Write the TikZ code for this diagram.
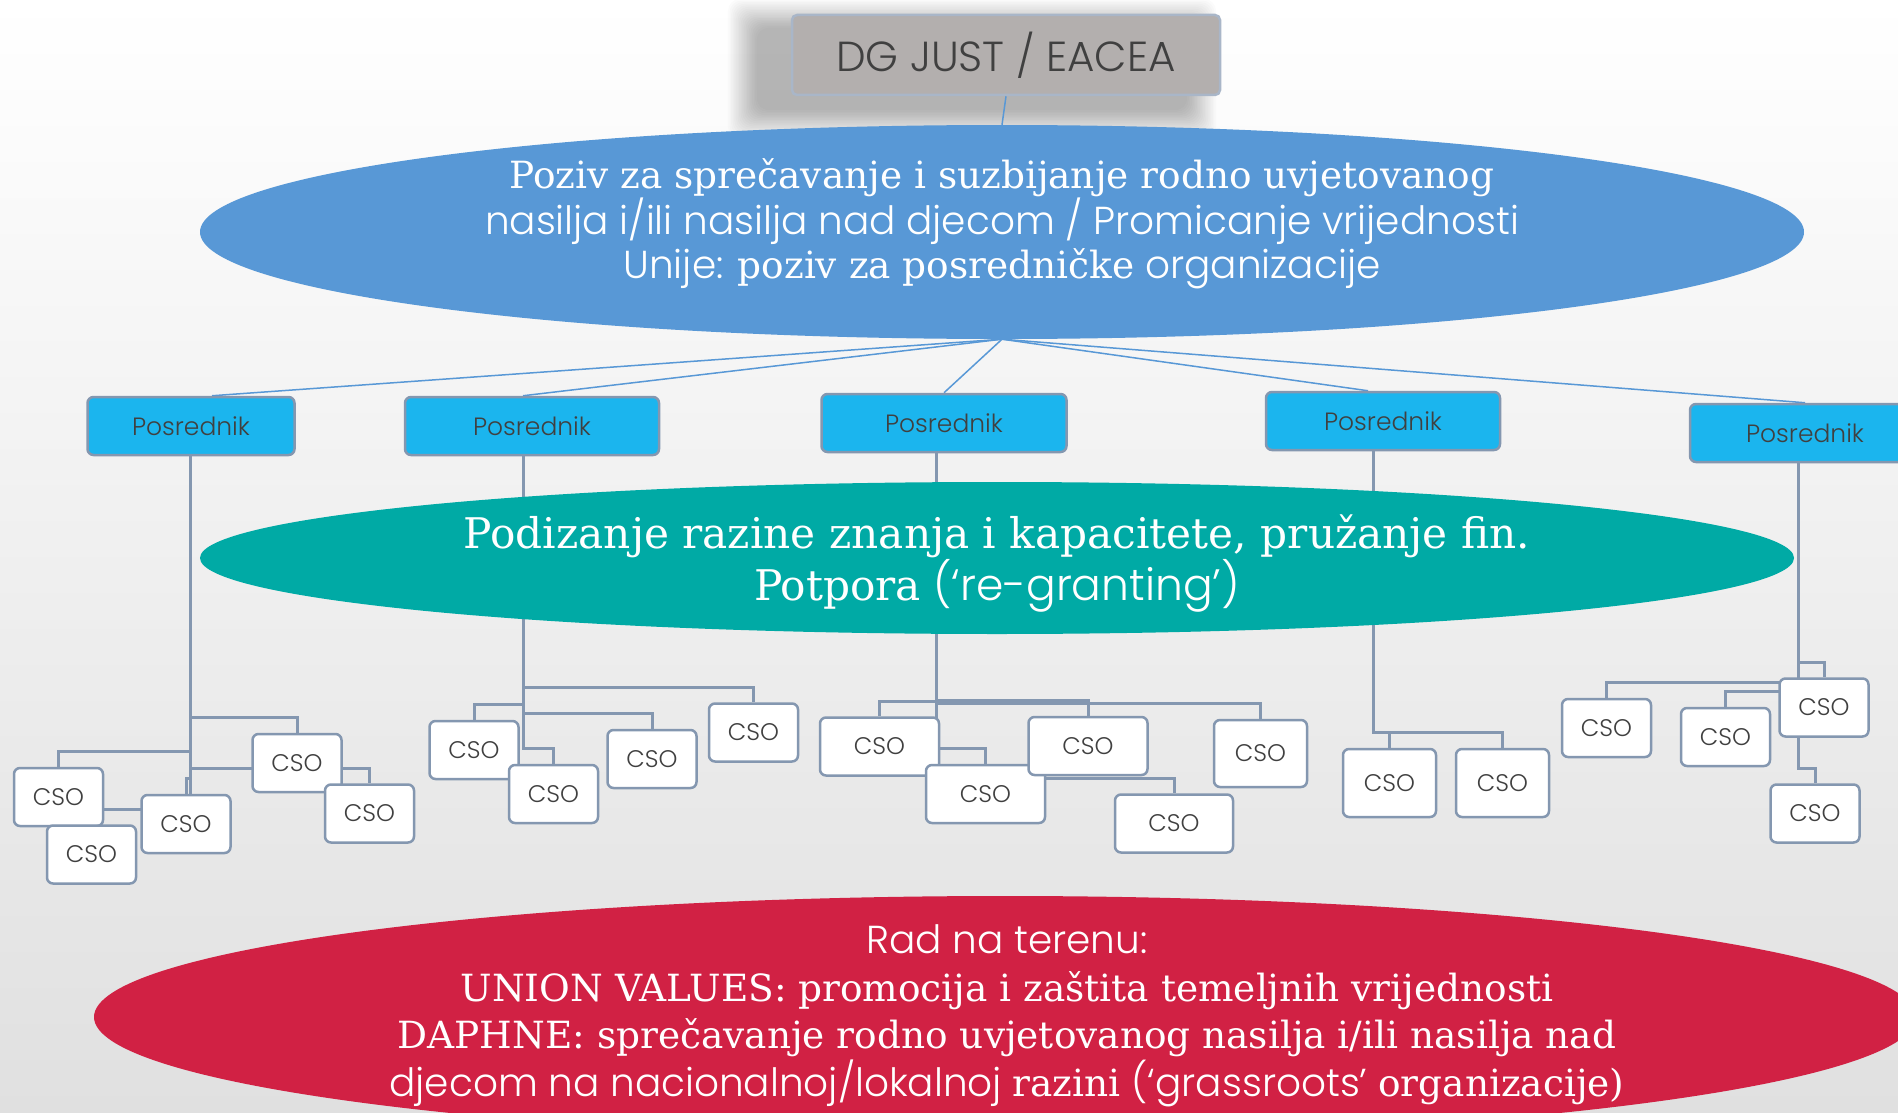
\documentclass[tikz,border=0pt]{standalone}
\usepackage{fontspec}
\IfFontExistsTF{Poppins Light}{\setmainfont{Poppins Light}}{\setmainfont{Poppins}}
\newfontfamily\slab{DejaVu Serif}[Scale=0.96]
\usetikzlibrary{shapes.geometric}
\definecolor{lineblue}{RGB}{132,151,176}
\definecolor{callblue}{RGB}{88,152,214}
\definecolor{posblue}{RGB}{27,181,238}
\definecolor{tealgr}{RGB}{0,170,165}
\definecolor{redrad}{RGB}{209,33,68}
\definecolor{boxgray}{RGB}{179,175,174}
\definecolor{txtgray}{RGB}{64,64,64}
\definecolor{bgmid}{RGB}{247,247,247}
\definecolor{bgbot}{RGB}{224,224,224}
\pgfdeclarelayer{back}
\pgfdeclarelayer{links}
\pgfsetlayers{back,links,main}

\begin{document}
\begin{tikzpicture}[x=1pt,y=-1pt,
    topbox/.style={draw=lineblue!70, line width=2.5pt, fill=boxgray, rounded corners=5pt,
      text=txtgray, font=\fontsize{42}{48}\selectfont},
    posrednik/.style={draw=lineblue, line width=2.5pt, fill=posblue, rounded corners=6pt,
      minimum height=58pt, text=txtgray, font=\fontsize{25}{29}\selectfont},
    cso/.style={draw=lineblue, line width=2.5pt, fill=white, rounded corners=6pt,
      minimum width=89pt, minimum height=58pt, text=txtgray, font=\fontsize{24}{28}\selectfont},
    oval/.style={ellipse, inner sep=0pt},
    ovaltxt/.style={text=white, align=center},
    cline/.style={draw=lineblue, line width=3pt},
    bline/.style={draw=callblue, line width=1.5pt}]

    \useasboundingbox (0,0) rectangle (1898,1113);
    \begin{pgfonlayer}{back}
      \fill[top color=white, middle color=bgmid, bottom color=bgbot] (0,0) rectangle (1898,1113);
    \end{pgfonlayer}

    % call level
    \node[topbox, minimum width=428pt, minimum height=80pt] (dg) at (1006,55) {DG JUST / EACEA};
    \begin{pgfonlayer}{back}
      \foreach \i in {0,...,18}
        \fill[black, opacity=0.014, rounded corners=12pt]
          ([xshift=-34pt-1.6pt*\i, yshift=-14pt-1.6pt*\i]dg.south west) rectangle
          ([xshift=-34pt+1.6pt*\i, yshift=-14pt+1.6pt*\i]dg.north east);
    \end{pgfonlayer}
    \node[oval, fill=callblue, minimum width=1604pt, minimum height=214pt] (poziv) at (1002,232) {};
    \node[ovaltxt, font=\fontsize{39}{44.5}\selectfont] (pozivtxt) at (1002,224)
      {{\slab Poziv za sprečavanje i suzbijanje rodno uvjetovanog}\\
       nasilja i/ili nasilja nad djecom / Promicanje vrijednosti\\
       Unije: {\slab poziv za posredničke} organizacije};

    % intermediaries
    \node[posrednik, minimum width=207pt] (p1) at (191,426) {Posrednik};
    \node[posrednik, minimum width=254pt] (p2) at (532,426) {Posrednik};
    \node[posrednik, minimum width=245pt] (p3) at (944,423) {Posrednik};
    \node[posrednik, minimum width=234pt] (p4) at (1383,421) {Posrednik};
    \node[posrednik, minimum width=230pt] (p5) at (1805,433) {Posrednik};

    \node[oval, fill=tealgr, minimum width=1594pt, minimum height=152pt] (podizanje) at (997,558) {};
    \node[ovaltxt, font=\fontsize{44}{52}\selectfont] (podizanjetxt) at (997,563)
      {{\slab Podizanje razine znanja i kapacitete, pružanje fin.}\\
       {\slab Potpora} (‘re-granting’)};

    % CSOs
    \node[cso] (c1a) at (58.5,797) {CSO};
    \node[cso] (c1b) at (91.5,854.5) {CSO};
    \node[cso] (c1c) at (186,824) {CSO};
    \node[cso] (c1d) at (297,763) {CSO};
    \node[cso] (c1e) at (369.5,813.5) {CSO};

    \node[cso] (c2a) at (474,750) {CSO};
    \node[cso] (c2b) at (553.5,794) {CSO};
    \node[cso] (c2c) at (652,759) {CSO};
    \node[cso] (c2d) at (753.5,732.5) {CSO};

    \node[cso, minimum width=119pt] (c3a) at (879.5,746.5) {CSO};
    \node[cso, minimum width=119pt] (c3b) at (985.5,794) {CSO};
    \node[cso, minimum width=119pt] (c3c) at (1088,746) {CSO};
    \node[cso, minimum width=93pt, minimum height=67pt] (c3d) at (1260.5,753.5) {CSO};
    \node[cso, minimum width=118pt] (c3e) at (1174,823.5) {CSO};

    \node[cso, minimum width=93pt, minimum height=68pt] (c4a) at (1389.5,783) {CSO};
    \node[cso, minimum width=93pt, minimum height=68pt] (c4b) at (1502.5,783) {CSO};

    \node[cso] (c5a) at (1824,707.5) {CSO};
    \node[cso] (c5b) at (1606.5,728) {CSO};
    \node[cso] (c5c) at (1725.5,737) {CSO};
    \node[cso] (c5d) at (1815,813.5) {CSO};

    % field level
    \node[oval, fill=redrad, minimum width=1822pt, minimum height=242pt] (rad) at (1005,1017) {};
    \node[ovaltxt, font=\fontsize{39}{47.5}\selectfont] (radtxt) at (1007,1016)
      {Rad na terenu:\\
       {\slab UNION VALUES: promocija i zaštita temeljnih vrijednosti}\\
       {\slab DAPHNE: sprečavanje rodno uvjetovanog nasilja i/ili nasilja nad}\\
       djecom na nacionalnoj/lokalnoj {\slab razini} (‘grassroots’ {\slab organizacije)}};

    \begin{pgfonlayer}{links}
      \draw[bline] (dg.south) -- (poziv.north);
      \foreach \p/\s in {p1/21,p2/-9,p3/0,p4/-15,p5/0}
        \draw[bline] (poziv.south) -- ([xshift=\s pt]\p.north);
      \foreach \c in {c1a,c1b,c1c,c1d,c1e}
        \draw[cline] ([xshift=-1pt]p1.south) |- ([yshift=15pt]\c.north) -- (\c.north);
      \foreach \c in {c2a,c2b,c2c,c2d}
        \draw[cline] ([xshift=-9pt]p2.south) |- ([yshift=15pt]\c.north) -- (\c.north);
      \foreach \c in {c3a,c3b,c3c,c3d,c3e}
        \draw[cline] ([xshift=-8pt]p3.south) |- ([yshift=15pt]\c.north) -- (\c.north);
      \foreach \c in {c4a,c4b}
        \draw[cline] ([xshift=-10pt]p4.south) |- ([yshift=15pt]\c.north) -- (\c.north);
      \foreach \c in {c5a,c5b,c5c,c5d}
        \draw[cline] ([xshift=-7pt]p5.south) |- ([yshift=15pt]\c.north) -- (\c.north);
    \end{pgfonlayer}
\end{tikzpicture}
\end{document}
